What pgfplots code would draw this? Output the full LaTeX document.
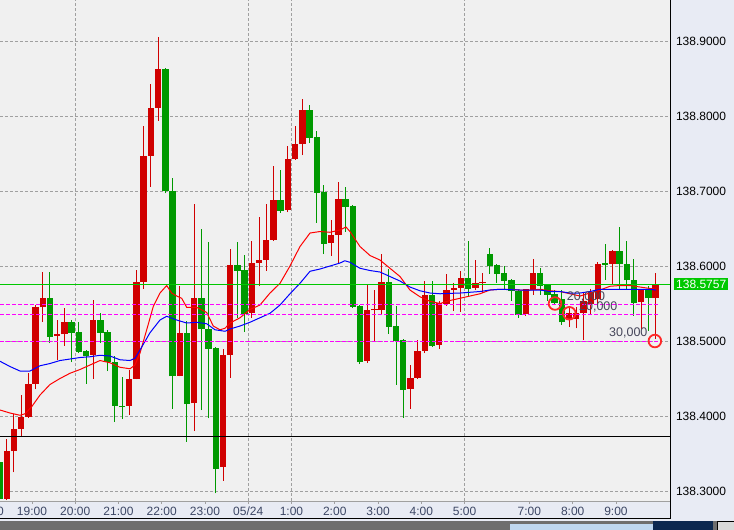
\documentclass[border=0pt]{standalone}
\usepackage{fontspec}
\setmainfont{Liberation Sans}
\usepackage{pgfplots}
\usepackage{pgfplotstable}
\pgfplotsset{compat=1.18}

\definecolor{plotbg}{RGB}{240,240,240}
\definecolor{panelbg}{RGB}{232,235,244}
\definecolor{candred}{RGB}{208,0,0}
\definecolor{candgreen}{RGB}{0,153,0}
\definecolor{gridgray}{RGB}{160,160,160}
\definecolor{bidgreen}{RGB}{0,200,0}
\definecolor{ordmag}{RGB}{255,0,255}
\definecolor{ordred}{RGB}{255,40,40}
\definecolor{ordtext}{RGB}{70,70,90}
\definecolor{labelslate}{RGB}{60,70,100}
\definecolor{barshade}{RGB}{110,110,110}
\definecolor{navbar}{RGB}{12,40,80}
\definecolor{navlight}{RGB}{190,215,240}

% 10-minute bars, i = bar index
\pgfplotstableread{
i o h l c
1 138.290 138.370 138.288 138.353
2 138.353 138.403 138.325 138.383
3 138.383 138.428 138.372 138.399
4 138.399 138.457 138.398 138.443
5 138.443 138.548 138.436 138.545
6 138.545 138.592 138.526 138.558
8 138.507 138.528 138.475 138.509
9 138.509 138.544 138.494 138.526
13 138.482 138.555 138.450 138.528
18 138.414 138.461 138.402 138.450
19 138.450 138.595 138.449 138.579
20 138.579 138.787 138.570 138.747
21 138.747 138.843 138.706 138.811
22 138.811 138.906 138.794 138.863
25 138.454 138.574 138.453 138.511
27 138.417 138.683 138.380 138.558
31 138.332 138.490 138.314 138.482
32 138.482 138.623 138.451 138.602
35 138.538 138.634 138.531 138.604
36 138.604 138.666 138.574 138.608
37 138.608 138.683 138.594 138.635
38 138.635 138.734 138.634 138.688
40 138.675 138.760 138.672 138.743
41 138.743 138.787 138.742 138.763
42 138.763 138.823 138.748 138.808
46 138.631 138.662 138.614 138.642
47 138.642 138.712 138.603 138.690
51 138.474 138.575 138.471 138.542
52 138.541 138.568 138.500 138.543
53 138.542 138.616 138.536 138.579
57 138.436 138.468 138.410 138.451
58 138.451 138.502 138.450 138.487
59 138.487 138.580 138.484 138.562
61 138.495 138.553 138.490 138.551
62 138.550 138.590 138.547 138.568
63 138.568 138.578 138.540 138.571
64 138.571 138.594 138.539 138.584
66 138.571 138.608 138.568 138.578
67 138.577 138.591 138.564 138.579
73 138.536 138.570 138.534 138.570
74 138.568 138.610 138.562 138.591
79 138.528 138.545 138.519 138.538
80 138.530 138.545 138.517 138.537
81 138.538 138.565 138.502 138.553
82 138.550 138.570 138.535 138.566
83 138.556 138.605 138.550 138.603
85 138.603 138.622 138.576 138.620
89 138.552 138.569 138.516 138.569
91 138.558 138.591 138.503 138.5757
}\upbars

\pgfplotstableread{
i o h l c
0 138.339 138.345 138.288 138.290
7 138.558 138.592 138.497 138.506
10 138.526 138.528 138.472 138.511
11 138.512 138.526 138.484 138.486
12 138.487 138.488 138.443 138.480
14 138.528 138.538 138.498 138.511
15 138.512 138.515 138.460 138.472
16 138.472 138.480 138.392 138.414
17 138.414 138.452 138.396 138.412
23 138.863 138.864 138.697 138.700
24 138.700 138.718 138.410 138.453
26 138.511 138.527 138.366 138.416
28 138.558 138.650 138.408 138.516
29 138.516 138.632 138.397 138.490
30 138.491 138.492 138.297 138.330
33 138.602 138.632 138.531 138.594
34 138.595 138.615 138.512 138.536
39 138.688 138.728 138.671 138.674
43 138.808 138.815 138.764 138.771
44 138.772 138.780 138.658 138.698
45 138.699 138.708 138.616 138.630
48 138.690 138.706 138.646 138.679
49 138.680 138.681 138.544 138.546
50 138.547 138.548 138.470 138.472
54 138.579 138.596 138.510 138.519
55 138.520 138.547 138.442 138.500
56 138.502 138.503 138.398 138.435
60 138.562 138.580 138.492 138.494
65 138.584 138.634 138.560 138.570
68 138.616 138.624 138.590 138.600
69 138.602 138.603 138.578 138.590
70 138.591 138.600 138.568 138.580
71 138.582 138.583 138.554 138.567
72 138.567 138.568 138.531 138.535
75 138.591 138.598 138.562 138.574
76 138.575 138.576 138.554 138.562
77 138.563 138.568 138.548 138.551
78 138.556 138.568 138.522 138.525
84 138.604 138.629 138.582 138.601
86 138.620 138.652 138.569 138.603
87 138.603 138.634 138.569 138.581
88 138.582 138.610 138.534 138.551
90 138.570 138.574 138.514 138.557
}\downbars

% fast moving average (red)
\pgfplotstableread{
i v
0.07 138.408
1.46 138.404
2.84 138.401
3.54 138.403
4.51 138.413
5.62 138.428
7.00 138.442
8.39 138.450
9.78 138.457
11.16 138.462
12.55 138.468
13.94 138.474
15.33 138.471
16.71 138.465
18.10 138.463
18.79 138.468
19.49 138.484
20.42 138.515
21.33 138.546
22.26 138.564
23.19 138.574
23.88 138.564
24.58 138.560
25.27 138.557
25.96 138.545
27.35 138.545
28.74 138.538
29.65 138.520
30.58 138.515
31.28 138.517
31.97 138.524
33.36 138.531
34.74 138.542
36.13 138.548
37.52 138.564
38.91 138.577
40.29 138.600
41.68 138.626
43.07 138.644
44.45 138.646
45.84 138.645
47.23 138.648
48.06 138.652
48.61 138.646
50.00 138.626
51.39 138.614
52.77 138.608
54.16 138.597
55.55 138.586
56.93 138.568
58.32 138.559
59.71 138.553
61.09 138.550
62.48 138.554
63.87 138.557
65.26 138.560
66.64 138.563
68.03 138.568
69.42 138.569
70.80 138.569
72.19 138.568
73.58 138.568
74.97 138.569
76.35 138.567
77.74 138.566
79.13 138.563
80.51 138.560
81.90 138.564
83.29 138.568
84.67 138.573
86.06 138.574
87.45 138.574
88.84 138.572
90.22 138.570
91.05 138.569
}\mafast

% slow moving average (blue)
\pgfplotstableread{
i v
0.07 138.473
1.46 138.466
2.84 138.460
4.23 138.460
5.62 138.467
7.00 138.470
8.39 138.474
9.78 138.476
11.16 138.478
12.55 138.479
13.94 138.481
15.33 138.480
16.71 138.475
18.10 138.474
18.79 138.477
19.49 138.488
20.87 138.511
22.26 138.528
23.19 138.533
24.58 138.528
25.96 138.524
27.35 138.525
28.74 138.523
29.89 138.515
31.28 138.513
31.97 138.516
33.36 138.520
34.74 138.525
36.13 138.531
37.52 138.537
38.91 138.548
40.29 138.563
41.68 138.577
43.07 138.593
44.45 138.596
45.84 138.600
47.23 138.604
47.90 138.607
48.61 138.605
50.00 138.597
51.39 138.594
52.77 138.592
54.16 138.586
55.55 138.580
56.93 138.572
58.32 138.567
59.71 138.564
61.09 138.563
63.87 138.564
65.26 138.565
66.64 138.566
68.03 138.568
69.42 138.569
72.19 138.568
74.97 138.568
76.35 138.566
77.74 138.566
79.13 138.564
80.51 138.564
81.90 138.566
83.29 138.569
84.67 138.569
87.45 138.569
90.22 138.569
91.05 138.568
}\maslow

\begin{document}
\begin{tikzpicture}
\useasboundingbox (0,0) rectangle (734bp,-530bp);
\clip (0,0) rectangle (734bp,-530bp);
\fill[panelbg] (0,0) rectangle (734bp,-530bp);
% bottom scroll strip
\fill[barshade] (0,-521bp) rectangle (734bp,-530bp);
\fill[navlight] (510bp,-524bp) rectangle (653bp,-530bp);
\fill[navbar] (653bp,-521bp) rectangle (713bp,-530bp);
\filldraw[fill=gray!30, draw=black, line width=0.8bp] (717bp,-521.5bp) rectangle (734bp,-530bp);

\begin{axis}[
  at={(0,0)}, anchor=north west,
  width=670bp, height=501bp, scale only axis,
  xmin=0.07, xmax=93.0,
  ymin=138.2867, ymax=138.9547,
  clip=false,
  axis background/.style={fill=plotbg},
  axis line style={draw=none},
  font=\fontsize{12bp}{14bp}\selectfont,
  ytick={138.3,138.4,138.5,138.6,138.7,138.8,138.9},
  yticklabel pos=right,
  ytick style={draw=none},
  yticklabel style={anchor=west, xshift=2.5bp, text=black,
    /pgf/number format/.cd, fixed, fixed zerofill, precision=4, assume math mode=true},
  ymajorgrids=true,
  major grid style={draw=gridgray, dash pattern=on 3bp off 2bp, line width=0.8bp},
  xtick={4.5,10.5,16.5,22.5,28.5,34.5,40.5,46.5,52.5,58.5,64.5,73.5,79.5,85.5},
  xticklabels={19:00,20:00,21:00,22:00,23:00,05/24,1:00,2:00,3:00,4:00,5:00,7:00,8:00,9:00},
  xtick pos=bottom,
  major tick length=3bp,
  xtick style={draw=gridgray, line width=0.8bp, yshift=-3bp},
  xticklabel style={text=labelslate, yshift=-2.4bp},
  extra x ticks={10.5,34.5,40.5,64.5},
  extra x tick labels={},
  extra x tick style={grid=major},
  candle/.style={draw=none, no marks, forget plot,
    error bars/y dir=plus, error bars/y explicit, error bars/error mark=none},
]
% wicks
\addplot[candle, error bars/error bar style={draw=candred, line width=1bp}]
  table[x=i, y=l, y error plus expr=\thisrow{h}-\thisrow{l}] {\upbars};
\addplot[candle, error bars/error bar style={draw=candgreen, line width=1bp}]
  table[x=i, y=l, y error plus expr=\thisrow{h}-\thisrow{l}] {\downbars};
% bodies
\addplot[candle, error bars/error bar style={draw=candred, line width=6.4bp}]
  table[x=i, y=o, y error plus expr=\thisrow{c}-\thisrow{o}] {\upbars};
\addplot[candle, error bars/error bar style={draw=candgreen, line width=6.4bp}]
  table[x=i, y=c, y error plus expr=\thisrow{o}-\thisrow{c}] {\downbars};

% moving averages
\addplot[draw=red, line width=1bp, mark=none] table[x=i, y=v] {\mafast};
\addplot[draw=blue, line width=1bp, mark=none] table[x=i, y=v] {\maslow};

% horizontal lines
\addplot[draw=black, line width=1bp, mark=none] coordinates {(0.07,138.373) (93.0,138.373)};
\addplot[draw=ordmag, line width=1bp, dash pattern=on 4bp off 2bp, mark=none] coordinates {(0.07,138.549) (91.6,138.549)};
\addplot[draw=ordmag, line width=1bp, dash pattern=on 4bp off 2bp, mark=none] coordinates {(0.07,138.536) (91.6,138.536)};
\addplot[draw=ordmag, line width=1bp, dash pattern=on 4bp off 2bp, mark=none] coordinates {(0.07,138.500) (91.6,138.500)};
\addplot[draw=bidgreen, line width=1bp, mark=none] coordinates {(0.07,138.5757) (93.0,138.5757)};

% order markers
\addplot[only marks, mark=o, mark size=6.3bp, mark options={draw=ordred, line width=1.8bp}]
  coordinates {(77.05,138.5500) (79.03,138.537) (90.9,138.500)};

\node[anchor=west, inner sep=0pt, text=ordtext, font=\fontsize{12.5bp}{14bp}\selectfont] at (axis cs:78.67,138.5591) {20,000};
\node[anchor=west, inner sep=0pt, text=ordtext, font=\fontsize{12.5bp}{14bp}\selectfont] at (axis cs:80.37,138.5449) {20,000};
\node[anchor=west, inner sep=0pt, text=ordtext, font=\fontsize{12.5bp}{14bp}\selectfont] at (axis cs:84.54,138.5103) {30,000};

\node[anchor=west, fill=bidgreen, text=white, inner xsep=2bp, inner ysep=1.7bp] at (axis cs:93.0,138.5757) [xshift=4bp] {138.5757};
\node[anchor=north, text=labelslate, inner sep=0.333em] at (axis cs:-1.5,138.2867) [yshift=-2.4bp] {18:00};
\end{axis}

% frame
\draw[gridgray, line width=1bp] (0,-501bp) -- (670bp,-501bp);
\draw[black, line width=1bp] (670bp,0) -- (670bp,-518bp) -- (0,-518bp);
\end{tikzpicture}
\end{document}
